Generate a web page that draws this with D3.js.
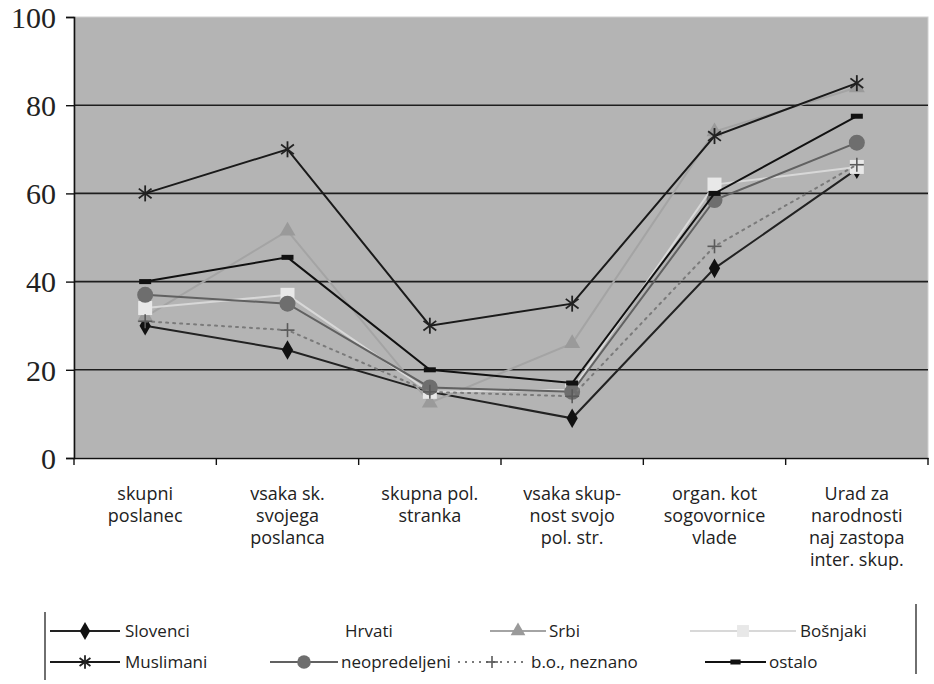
<!DOCTYPE html>
<html>
<head>
<meta charset="utf-8">
<script src="https://cdn.jsdelivr.net/npm/d3@7"></script>
<style>
  body { margin: 0; background: #fff; }
  svg { display: block; }
  .xlab, .leg { font-family: "Open Sans", sans-serif; fill: #222; }
</style>
</head>
<body>
<div id="chart"></div>
<script>
// categories (multi-line labels)
var categories = [
  ["skupni", "poslanec"],
  ["vsaka sk.", "svojega", "poslanca"],
  ["skupna pol.", "stranka"],
  ["vsaka skup-", "nost svojo", "pol. str."],
  ["organ. kot", "sogovornice", "vlade"],
  ["Urad za", "narodnosti", "naj zastopa", "inter. skup."]
];
var yTicks = [0, 20, 40, 60, 80, 100];

var slovenci      = [30, 24.5, 15, 9, 43, 65.5];
var hrvati        = [null, null, null, null, null, null];
var srbi          = [32, 51.5, 12.5, 26, 74, 84];
var bosnjaki      = [34, 37, 15, 15.5, 62, 66];
var muslimani     = [60, 70, 30, 35, 73, 85];
var neopredeljeni = [37, 35, 16, 15, 58.5, 71.5];
var bo_neznano    = [31, 29, 15, 14, 48, 66.5];
var ostalo        = [40, 45.5, 20, 17, 60, 77.5];

var series = [
  { name: "Slovenci", values: slovenci, color: "#111", stroke: "#222", marker: "diamond" },
  { name: "Hrvati", values: hrvati, color: "none", stroke: "none", marker: "none" },
  { name: "Srbi", values: srbi, color: "#9a9a9a", stroke: "#a4a4a4", marker: "triangle" },
  { name: "Bošnjaki", values: bosnjaki, color: "#e8e8e8", stroke: "#d8d8d8", marker: "square" },
  { name: "Muslimani", values: muslimani, color: "#222", stroke: "#1a1a1a", marker: "asterisk" },
  { name: "neopredeljeni", values: neopredeljeni, color: "#6e6e6e", stroke: "#616161", marker: "circle" },
  { name: "b.o., neznano", values: bo_neznano, color: "#5a5a5a", stroke: "#7a7a7a", marker: "plus", dash: "2,5" },
  { name: "ostalo", values: ostalo, color: "#111", stroke: "#111", marker: "dash" }
];

var width = 934, height = 684;
var svg = d3.select("#chart").append("svg")
  .attr("width", width).attr("height", height);

var x = d3.scaleBand().domain(d3.range(categories.length)).range([74, 928]).padding(0);
var y = d3.scaleLinear().domain([0, 100]).range([458, 17]);

// plot background
svg.append("rect")
  .attr("x", 74).attr("y", y(100))
  .attr("width", 928 - 74).attr("height", y(0) - y(100))
  .attr("fill", "#b4b4b4")
  .attr("stroke", "#d0d0d0");

// gridlines
svg.selectAll(".grid").data(yTicks.filter(d => d > 0 && d < 100)).enter()
  .append("line")
  .attr("x1", 74).attr("x2", 928)
  .attr("y1", d => y(d)).attr("y2", d => y(d))
  .attr("stroke", "#1e1e1e").attr("stroke-width", 1.6);

// y axis
var yAxis = svg.append("g").attr("transform", "translate(74,0)")
  .call(d3.axisLeft(y).tickValues(yTicks).tickSize(8).tickPadding(10));
yAxis.attr("font-family", "Liberation Serif, DejaVu Serif, serif").attr("font-size", 30);
yAxis.selectAll(".tick text").attr("fill", "#222").attr("dy", "0.34em");
yAxis.select(".domain").attr("stroke", "#111").attr("stroke-width", 1.6);
yAxis.selectAll(".tick line").attr("stroke", "#111").attr("stroke-width", 1.4);

// x axis
var xAxis = svg.append("g").attr("transform", "translate(0," + y(0) + ")")
  .call(d3.axisBottom(x).tickSize(0).tickFormat(""));
xAxis.select(".domain").attr("stroke", "#111").attr("stroke-width", 1.6);
svg.selectAll(".xtick").data(d3.range(categories.length + 1)).enter()
  .append("line")
  .attr("x1", d => 74 + d * x.bandwidth()).attr("x2", d => 74 + d * x.bandwidth())
  .attr("y1", y(0)).attr("y2", y(0) + 7)
  .attr("stroke", "#111").attr("stroke-width", 1.4);

// category labels
var lab = svg.selectAll(".xlab").data(categories).enter()
  .append("text")
  .attr("class", "xlab")
  .attr("text-anchor", "middle")
  .style("font-size", "18px");
lab.each(function(d, i) {
  var t = d3.select(this);
  d.forEach(function(line, j) {
    t.append("tspan")
      .attr("x", x(i) + x.bandwidth() / 2)
      .attr("y", 500 + j * 22)
      .text(line);
  });
});

// marker drawing
function drawMarker(g, type, color, cx, cy, s) {
  s = s || 1;
  if (type === "diamond") {
    g.append("path").attr("d", d3.symbol(d3.symbolDiamond, 110 * s)())
      .attr("transform", "translate(" + cx + "," + cy + ")").attr("fill", color);
  } else if (type === "triangle") {
    g.append("path").attr("d", d3.symbol(d3.symbolTriangle, 110 * s)())
      .attr("transform", "translate(" + cx + "," + cy + ")").attr("fill", color);
  } else if (type === "square") {
    g.append("rect").attr("x", cx - 7 * s).attr("y", cy - 7 * s)
      .attr("width", 14 * s).attr("height", 14 * s).attr("fill", color);
  } else if (type === "circle") {
    g.append("circle").attr("cx", cx).attr("cy", cy).attr("r", 8 * s).attr("fill", color);
  } else if (type === "asterisk") {
    var r = 8 * s;
    [[0, -r, 0, r], [-r * 0.8, -r * 0.6, r * 0.8, r * 0.6], [-r * 0.8, r * 0.6, r * 0.8, -r * 0.6]].forEach(function(a) {
      g.append("line").attr("x1", cx + a[0]).attr("y1", cy + a[1])
        .attr("x2", cx + a[2]).attr("y2", cy + a[3])
        .attr("stroke", color).attr("stroke-width", 1.8);
    });
  } else if (type === "plus") {
    var p = 7 * s;
    g.append("line").attr("x1", cx - p).attr("x2", cx + p).attr("y1", cy).attr("y2", cy)
      .attr("stroke", color).attr("stroke-width", 1.6);
    g.append("line").attr("x1", cx).attr("x2", cx).attr("y1", cy - p).attr("y2", cy + p)
      .attr("stroke", color).attr("stroke-width", 1.6);
  } else if (type === "dash") {
    g.append("rect").attr("x", cx - 6 * s).attr("y", cy - 2.5)
      .attr("width", 12 * s).attr("height", 5).attr("fill", color);
  }
}

var line = d3.line()
  .defined(d => d != null)
  .x((d, i) => x(i) + x.bandwidth() / 2)
  .y(d => y(d));

series.forEach(function(s) {
  if (s.marker === "none") return;
  var g = svg.append("g");
  g.append("path").datum(s.values)
    .attr("d", line)
    .attr("fill", "none")
    .attr("stroke", s.stroke)
    .attr("stroke-width", 2)
    .attr("stroke-dasharray", s.dash || null)
    .attr("stroke-linecap", s.dash ? "round" : null);
  s.values.forEach(function(v, i) {
    if (v == null) return;
    drawMarker(g, s.marker, s.color, x(i) + x.bandwidth() / 2, y(v));
  });
});

// legend
svg.append("line").attr("x1", 45).attr("x2", 45).attr("y1", 612).attr("y2", 680)
  .attr("stroke", "#333").attr("stroke-width", 1.4);
svg.append("line").attr("x1", 916).attr("x2", 916).attr("y1", 604).attr("y2", 674)
  .attr("stroke", "#333").attr("stroke-width", 1.4);

var legendPos = [
  { x1: 50, x2: 120, tx: 125, y: 631 },
  { x1: 0, x2: 0, tx: 345, y: 631 },
  { x1: 490, x2: 546, tx: 549, y: 631 },
  { x1: 690, x2: 796, tx: 800, y: 631 },
  { x1: 50, x2: 120, tx: 125, y: 662 },
  { x1: 270, x2: 338, tx: 341, y: 662 },
  { x1: 458, x2: 526, tx: 531, y: 662 },
  { x1: 705, x2: 766, tx: 769, y: 662 }
];

series.forEach(function(s, i) {
  var p = legendPos[i];
  var g = svg.append("g");
  if (s.marker !== "none") {
    g.append("line").attr("x1", p.x1).attr("x2", p.x2).attr("y1", p.y).attr("y2", p.y)
      .attr("stroke", s.stroke).attr("stroke-width", 2)
      .attr("stroke-dasharray", s.dash || null);
    drawMarker(g, s.marker, s.color, (p.x1 + p.x2) / 2, p.y, 0.85);
  }
  g.append("text").attr("class", "leg").attr("x", p.tx).attr("y", p.y + 6)
    .style("font-size", "17px")
    .text(s.name);
});
</script>
</body>
</html>
